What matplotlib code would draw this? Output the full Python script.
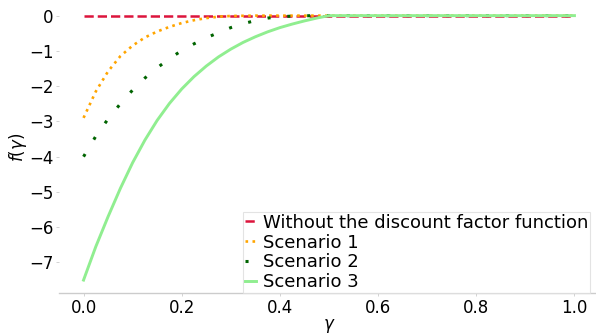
import matplotlib
matplotlib.use("Agg")
import matplotlib.pyplot as plt

# data
gamma = [0.0, 0.025, 0.05, 0.075, 0.1, 0.125, 0.15, 0.175, 0.2, 0.225, 0.25,
         0.275, 0.3, 0.325, 0.35, 0.375, 0.4, 0.425, 0.45, 0.475, 0.5, 1.0]
baseline = [0.0] * 22
scenario1 = [-2.9, -2.15, -1.58, -1.15, -0.85, -0.62, -0.45, -0.32, -0.21, -0.13, -0.07,
             -0.03, -0.01, -0.005, 0.0, 0.0, 0.0, 0.0, 0.0, 0.0, 0.0, 0.0]
scenario2 = [-4.0, -3.42, -2.93, -2.50, -2.11, -1.77, -1.48, -1.22, -0.99, -0.80, -0.63,
             -0.48, -0.34, -0.23, -0.14, -0.07, -0.03, -0.015, -0.005, 0.0, 0.0, 0.0]
scenario3 = [-7.5, -6.55, -5.70, -4.90, -4.17, -3.53, -2.97, -2.49, -2.08, -1.73, -1.43,
             -1.17, -0.95, -0.76, -0.60, -0.46, -0.34, -0.24, -0.15, -0.07, 0.0, 0.0]
labels = ["Without the discount factor function", "Scenario 1", "Scenario 2", "Scenario 3"]
yticks = [0, -1, -2, -3, -4, -5, -6, -7]
xticks = [0.0, 0.2, 0.4, 0.6, 0.8, 1.0]

fig = plt.figure(figsize=(5.96, 3.36), dpi=100)
ax = fig.add_axes([59 / 596, 42.7 / 336, 540 / 596, 290.9 / 336])

ax.plot(gamma, baseline, color="crimson", linestyle="--", lw=1.8, label=labels[0])
ax.plot(gamma, scenario1, color="orange", linestyle=":", lw=1.9, label=labels[1])
ax.plot(gamma, scenario2, color="darkgreen", linestyle=(0, (1, 5.5)), lw=2.2, label=labels[2])
ax.plot(gamma, scenario3, color="lightgreen", linestyle="-", lw=2.1, label=labels[3])

ax.set_xlim(-0.05, 1.05)
ax.set_ylim(-7.875, 0.375)
ax.set_xticks(xticks)
ax.set_yticks(yticks)
ax.tick_params(labelsize=12, length=2, width=0.6, color="#cccccc", pad=2)
for s in ["top", "right", "left"]:
    ax.spines[s].set_visible(False)
ax.spines["bottom"].set_color("#cccccc")
ax.spines["bottom"].set_linewidth(1.0)
ax.set_xlabel(r"$\gamma$", fontsize=12, labelpad=0)
ax.set_ylabel(r"$f(\gamma)$", fontsize=12, labelpad=0)

leg = fig.legend(loc="lower left", bbox_to_anchor=(243 / 596, 43 / 336),
                 bbox_transform=fig.transFigure, fontsize=13, handlelength=0.6,
                 handletextpad=0.4, labelspacing=0.1, borderpad=0.1,
                 borderaxespad=0, fancybox=False, framealpha=0.8)
leg.get_frame().set_edgecolor("#dddddd")
leg.get_frame().set_linewidth(0.8)

fig.savefig("out.png", dpi=100)
